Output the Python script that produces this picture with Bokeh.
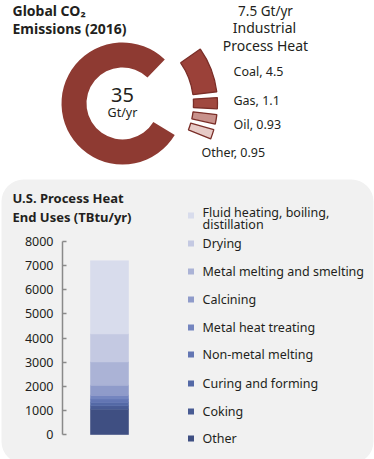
import numpy as np
from bokeh.plotting import figure
from bokeh.models import (Range1d, LinearAxis, FixedTicker, Label, BoxAnnotation,
                          ColumnDataSource)
from bokeh.embed import file_html
from bokeh.resources import INLINE

# ---------------- data ----------------
total_emissions = 35.0          # Gt/yr
industrial_heat = 7.5           # Gt/yr
fuel_names = ["Coal", "Gas", "Oil", "Other"]
fuel_values = [4.5, 1.1, 0.93, 0.95]
fuel_colors = ["#9b4139", "#a0483f", "#c8918b", "#e7cbc7"]

end_uses = ["Fluid heating, boiling,\ndistillation", "Drying", "Metal melting and smelting",
            "Calcining", "Metal heat treating", "Non-metal melting", "Curing and forming",
            "Coking", "Other"]
end_use_values = [3030, 1160, 970, 420, 150, 140, 140, 140, 1050]   # TBtu/yr
end_use_colors = ["#d8dcec", "#c4c9e2", "#abb3d6", "#8f9bca", "#7485bf",
                  "#6376b3", "#5469a6", "#485b93", "#3f4f82"]
heat_ticks = [0, 1000, 2000, 3000, 4000, 5000, 6000, 7000, 8000]

FONT = "Noto Sans"
TXT = "#231f20"
PANEL = "#f1f1f1"
W, H = 374, 459

def X(wx):
    return wx
def Y(wy):
    return H - wy

p = figure(width=W, height=H, output_backend="svg", toolbar_location=None,
           x_range=Range1d(0, W), y_range=Range1d(0, H),
           x_axis_type=None, y_axis_type=None,
           min_border_left=0, min_border_right=0, min_border_top=0, min_border_bottom=0)
p.outline_line_color = None
p.background_fill_color = "white"
p.border_fill_color = "white"

# gray rounded panel
p.add_layout(BoxAnnotation(left=X(1), right=X(373), bottom=Y(463), top=Y(179),
                           fill_color=PANEL, fill_alpha=1.0, line_color=None,
                           border_radius=22, level="underlay"))

def lab(x, y, t, size, bold=False, align="left"):
    p.add_layout(Label(x=X(x), y=Y(y), text=t, text_font=FONT, text_font_size=size,
                       text_font_style="bold" if bold else "normal", text_align=align,
                       text_baseline="middle", text_color=TXT))

# ---------------- donut ----------------
cx, cy = X(122), Y(103)
gap_center = 7.5
gap_deg = industrial_heat / total_emissions * 360.0
p.annular_wedge(x=cx, y=cy, inner_radius=36, outer_radius=61,
                start_angle=np.radians(gap_center + gap_deg / 2),
                end_angle=np.radians(gap_center - gap_deg / 2),
                direction="anticlock", fill_color="#8e3a32", line_color=None)

k = 6.2       # deg per Gt in the exploded view
sep = 3.5
start = 35.0
starts, ends = [], []
for v in fuel_values:
    starts.append(np.radians(start))
    ends.append(np.radians(start - v * k))
    start = start - v * k - sep
src = ColumnDataSource(dict(s=starts, e=ends, c=fuel_colors))
p.annular_wedge(x=cx, y=cy, inner_radius=71, outer_radius=95,
                start_angle="e", end_angle="s",
                fill_color="c", line_color="#7a2e28", line_width=1.3, source=src)

lab(12, 10, "Global CO\u2082", "14px", bold=True)
lab(12, 28, "Emissions (2016)", "14px", bold=True)
lab(122, 94, f"{total_emissions:g}", "20px", align="center")
lab(122, 112, "Gt/yr", "12.5px", align="center")
lab(265, 10, f"{industrial_heat:g} Gt/yr", "13.5px", align="center")
lab(264, 27, "Industrial", "14px", align="center")
lab(265, 45, "Process Heat", "14px", align="center")
fuel_label_pos = [(233, 71), (233, 100), (233, 124), (201, 152)]
for (lx, ly), n, v in zip(fuel_label_pos, fuel_names, fuel_values):
    lab(lx, ly, f"{n}, {v:g}", "12.5px")

# ---------------- stacked bar ----------------
lab(12, 197, "U.S. Process Heat", "13px", bold=True)
lab(12, 216, "End Uses (TBtu/yr)", "13px", bold=True)

a = 193.0 / 8000.0          # px per TBtu
zero_px = Y(434)
p.extra_y_ranges = {"heat": Range1d(-zero_px / a, (H - zero_px) / a)}
ax = LinearAxis(y_range_name="heat", ticker=FixedTicker(ticks=heat_ticks),
                fixed_location=X(62))
ax.bounds = (0, 8000)
ax.axis_line_color = "#8a8a8a"
ax.axis_line_width = 1.5
ax.major_tick_line_color = "#8a8a8a"
ax.major_tick_line_width = 1.5
ax.major_tick_in = 4
ax.major_tick_out = 0
ax.minor_tick_line_color = None
ax.major_label_text_font = FONT
ax.major_label_text_font_size = "12.5px"
ax.major_label_text_color = TXT
ax.major_label_standoff = 9
p.add_layout(ax, "left")

vals_bottom_up = end_use_values[::-1]
cols_bottom_up = end_use_colors[::-1]
tops_ = np.cumsum(vals_bottom_up)
bottoms = tops_ - np.array(vals_bottom_up)
bsrc = ColumnDataSource(dict(b=bottoms, t=tops_, c=cols_bottom_up))
p.vbar(x=X(109), width=38, bottom="b", top="t", fill_color="c", line_color="c",
       line_width=0.6, source=bsrc, y_range_name="heat")

# legend
leg_y = [215, 243, 271, 299, 327, 354, 383, 411, 438]
p.scatter(x=[X(190.5)] * len(leg_y), y=[Y(v) for v in leg_y], marker="square", size=6,
          fill_color=end_use_colors, line_color=None)
for yy, name in zip(leg_y, end_uses):
    lines = name.split("\n")
    if len(lines) == 2:
        lab(202, yy - 3, lines[0], "12.5px")
        lab(202, yy + 9, lines[1], "12.5px")
    else:
        lab(202, yy, name, "12.5px")

open("out.html", "w").write(file_html(p, INLINE))
